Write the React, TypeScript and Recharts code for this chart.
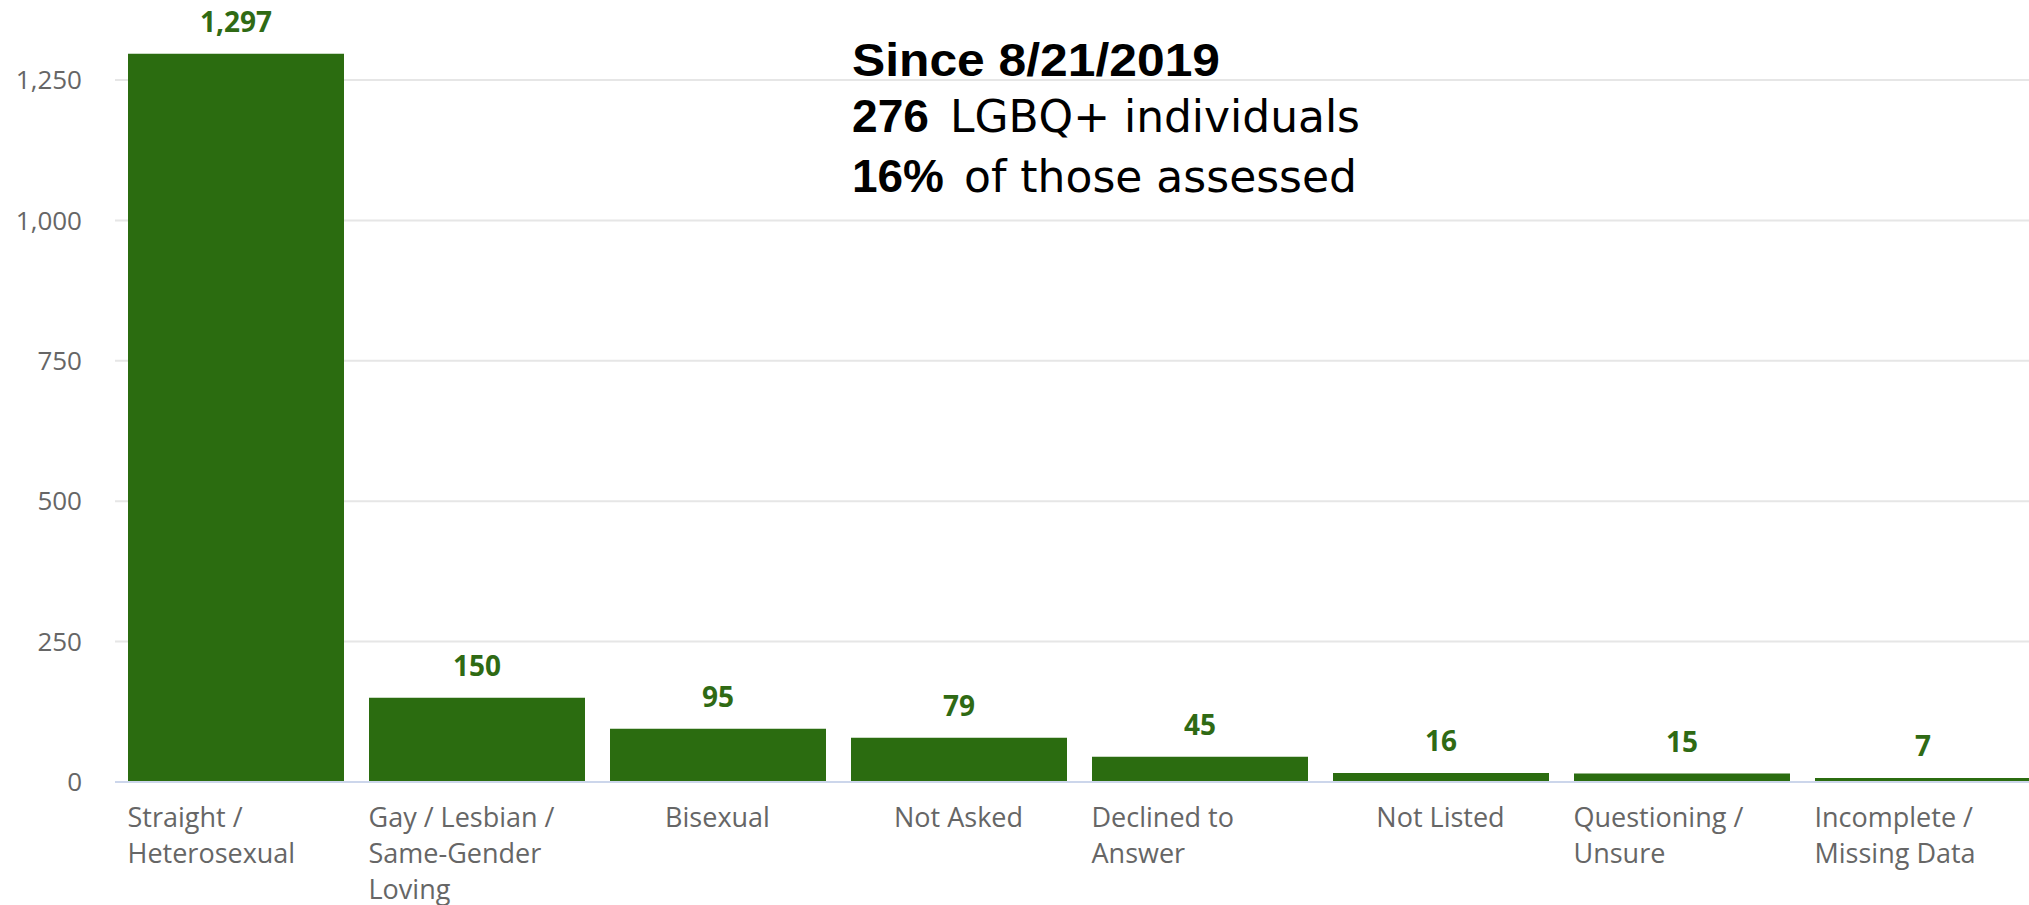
import React from 'react';
import { BarChart, Bar, XAxis, YAxis, CartesianGrid, LabelList } from 'recharts';

const categories = [
  'Straight /\nHeterosexual',
  'Gay / Lesbian /\nSame-Gender\nLoving',
  'Bisexual',
  'Not Asked',
  'Declined to\nAnswer',
  'Not Listed',
  'Questioning /\nUnsure',
  'Incomplete /\nMissing Data',
];
const counts = [1297, 150, 95, 79, 45, 16, 15, 7];
const yTicks = [0, 250, 500, 750, 1000, 1250];

const note = {
  title: 'Since 8/21/2019',
  countBold: '276',
  countText: 'LGBQ+ individuals',
  shareBold: '16%',
  shareText: 'of those assessed',
};

const BAR_COLOR = '#2b6c10';
const LABEL_COLOR = '#2f6a14';
const TICK_COLOR = '#666666';
const BOLD_FONT = "'Liberation Sans', Arial, sans-serif";

const data = categories.map((name, i) => ({ name, value: counts[i] }));

const fmt = (v: number) => Number(v).toLocaleString('en-US');

const CategoryTick = (props: any) => {
  const { x, y, payload } = props;
  const lines = String(payload.value).split('\n');
  const multi = lines.length > 1;
  const tx = multi ? x - 108 : x;
  return (
    <text
      x={tx}
      y={y + 43}
      textAnchor={multi ? 'start' : 'middle'}
      fill={TICK_COLOR}
      fontSize={27}
      fontFamily="'Open Sans', sans-serif"
    >
      {lines.map((line, i) => (
        <tspan key={i} x={tx} dy={i === 0 ? 0 : 36}>
          {line}
        </tspan>
      ))}
    </text>
  );
};

const App: React.FC = () => {
  return (
    <div
      style={{
        position: 'fixed',
        left: 0,
        top: 0,
        width: 2029,
        height: 905,
        overflow: 'hidden',
        background: '#fff',
        fontFamily: "'Open Sans', sans-serif",
      }}
    >
      <BarChart
        width={2060}
        height={905}
        data={data}
        margin={{ top: 52, right: 17, bottom: 0, left: 0 }}
      >
        <CartesianGrid
          vertical={false}
          stroke="#e6e6e6"
          strokeWidth={2}
          horizontalValues={yTicks}
        />
        <XAxis
          dataKey="name"
          height={123}
          tickLine={false}
          tickSize={0}
          axisLine={{ stroke: '#ccd6eb', strokeWidth: 2 }}
          interval={0}
          tick={<CategoryTick />}
        />
        <YAxis
          width={115}
          domain={[0, 1300]}
          ticks={yTicks}
          tickFormatter={fmt}
          axisLine={false}
          tickLine={false}
          tickSize={0}
          tickMargin={33}
          tick={{ fill: TICK_COLOR, fontSize: 26 }}
        />
        <Bar dataKey="value" fill={BAR_COLOR} barSize={216} isAnimationActive={false}>
          <LabelList
            dataKey="value"
            position="top"
            offset={22}
            fill={LABEL_COLOR}
            fontSize={28}
            fontWeight="bold"
            formatter={(v: any) => fmt(v)}
          />
        </Bar>
      </BarChart>
      <svg
        width={2029}
        height={905}
        style={{ position: 'absolute', left: 0, top: 0, pointerEvents: 'none' }}
        fontFamily="'DejaVu Sans', sans-serif"
        fontSize={45}
        fill="#000"
      >
        <text
          x={852}
          y={76}
          fontFamily={BOLD_FONT}
          fontWeight="bold"
          fontSize={46}
          textLength={368}
          lengthAdjust="spacingAndGlyphs"
        >
          {note.title}
        </text>
        <text x={852} y={132}>
          <tspan fontFamily={BOLD_FONT} fontWeight="bold" fontSize={46} textLength={77} lengthAdjust="spacingAndGlyphs">
            {note.countBold}
          </tspan>
          <tspan x={936} textLength={424} lengthAdjust="spacingAndGlyphs">
            {' ' + note.countText}
          </tspan>
        </text>
        <text x={852} y={192}>
          <tspan fontFamily={BOLD_FONT} fontWeight="bold" fontSize={46} textLength={92} lengthAdjust="spacingAndGlyphs">
            {note.shareBold}
          </tspan>
          <tspan x={950} textLength={407} lengthAdjust="spacingAndGlyphs">
            {' ' + note.shareText}
          </tspan>
        </text>
      </svg>
    </div>
  );
};

export default App;
